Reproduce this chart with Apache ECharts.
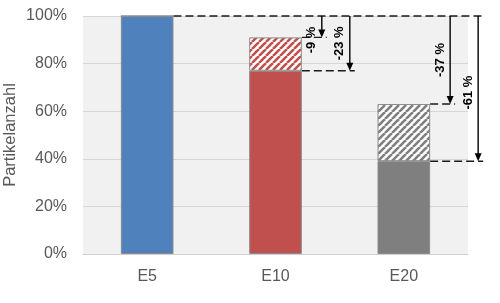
<!DOCTYPE html>
<html><head><meta charset="utf-8">
<script src="https://cdn.jsdelivr.net/npm/echarts@6/dist/echarts.min.js"></script>
<style>html,body{margin:0;padding:0;background:#fff}#c{width:500px;height:303px}</style>
</head><body><div id="c"></div>
<script>
const categories = ['E5', 'E10', 'E20'];
const solidValues = [100, 77, 39];
const hatchedValues = [0, 14, 24];
const yTicks = [0, 20, 40, 60, 80, 100];
const reductions = [
  { cat: 'E10', from: 100, to: 91, label: '-9 %' },
  { cat: 'E10', from: 100, to: 77, label: '-23 %' },
  { cat: 'E20', from: 100, to: 63, label: '-37 %' },
  { cat: 'E20', from: 100, to: 39, label: '-61 %' }
];
const barColors = ['#4f81bd', '#c0504d', '#7f7f7f'];

function hatch(color) {
  const s = 7;
  const c = document.createElement('canvas');
  c.width = s; c.height = s;
  const g = c.getContext('2d');
  g.fillStyle = '#fff'; g.fillRect(0, 0, s, s);
  g.strokeStyle = color; g.lineWidth = 2.6;
  for (const o of [-s, 0, s]) {
    g.beginPath(); g.moveTo(o, s); g.lineTo(o + s, 0); g.stroke();
  }
  return { image: c, repeat: 'repeat' };
}

const chart = echarts.init(document.getElementById('c'), null, { renderer: 'canvas' });
const font = 'Liberation Sans, Arial, sans-serif';
chart.setOption({
  animation: false,
  grid: { left: 83, right: 32, top: 16, bottom: 49, show: true, backgroundColor: '#f1f1f1', borderWidth: 0, containLabel: false, outerBoundsMode: 'none' },
  xAxis: {
    type: 'category', data: categories,
    axisLine: { lineStyle: { color: '#d0d0d0', width: 1 } },
    axisTick: { show: false },
    axisLabel: { color: '#595959', fontSize: 16, fontFamily: font, margin: 15 }
  },
  yAxis: {
    type: 'value', min: 0, max: 100, interval: 20,
    name: 'Partikelanzahl', nameLocation: 'middle', nameGap: 64, nameRotate: 90, nameMoveOverlap: false,
    nameTextStyle: { color: '#595959', fontSize: 16.5, fontFamily: font },
    axisLine: { show: false }, axisTick: { show: false },
    axisLabel: { color: '#595959', fontSize: 16, fontFamily: font, margin: 16, formatter: v => yTicks.includes(v) ? v + '%' : '' },
    splitLine: { lineStyle: { color: '#d6d6d6', width: 1 } }
  },
  series: [
    {
      type: 'bar', stack: 's', barWidth: '41%',
      data: solidValues.map((v, i) => ({ value: v, itemStyle: { color: barColors[i] } })),
      itemStyle: { borderColor: '#8a8a8a', borderWidth: 1 }
    },
    {
      type: 'bar', stack: 's', barWidth: '41%',
      data: hatchedValues.map((v, i) => ({ value: v, itemStyle: { color: hatch(barColors[i]) } })),
      itemStyle: { borderColor: '#8a8a8a', borderWidth: 1 }
    }
  ]
});

function px(cat) { return chart.convertToPixel({ xAxisIndex: 0 }, cat); }
function py(v) { return chart.convertToPixel({ yAxisIndex: 0 }, v); }
const band = px(categories[1]) - px(categories[0]);
const half = band * 0.41 / 2;
const dash = { stroke: '#1a1a1a', lineWidth: 1.4, lineDash: [8, 4] };
const els = [];
const yTop = py(100);
const e5Right = px('E5') + half;
els.push({ type: 'line', shape: { x1: e5Right, y1: yTop, x2: px('E20') + half + 52, y2: yTop }, style: dash, silent: true });
const perCat = {};
reductions.forEach(r => {
  const k = perCat[r.cat] = (perCat[r.cat] || 0) + 1;
  const right = px(r.cat) + half;
  const ax = right + (k === 1 ? 20 : 48);
  const yEnd = py(r.to);
  els.push({ type: 'line', shape: { x1: right, y1: yEnd, x2: ax + 5, y2: yEnd }, style: dash, silent: true });
  els.push({ type: 'line', shape: { x1: ax, y1: yTop, x2: ax, y2: yEnd - 6 }, style: { stroke: '#000', lineWidth: 1.4 }, silent: true });
  els.push({ type: 'polygon', shape: { points: [[ax - 3.5, yEnd - 8], [ax + 3.5, yEnd - 8], [ax, yEnd]] }, style: { fill: '#000' }, silent: true });
  const ly = (r.to > 85) ? yTop + 24 : (yTop + yEnd) / 2 + (r.to < 50 ? 4 : 0);
  els.push({
    type: 'text', x: ax - 10, y: ly, rotation: Math.PI / 2,
    style: { text: r.label, fill: '#000', font: 'bold 13px ' + font, align: 'center', verticalAlign: 'middle' },
    silent: true
  });
});
chart.setOption({ graphic: { elements: els } });
</script></body></html>
